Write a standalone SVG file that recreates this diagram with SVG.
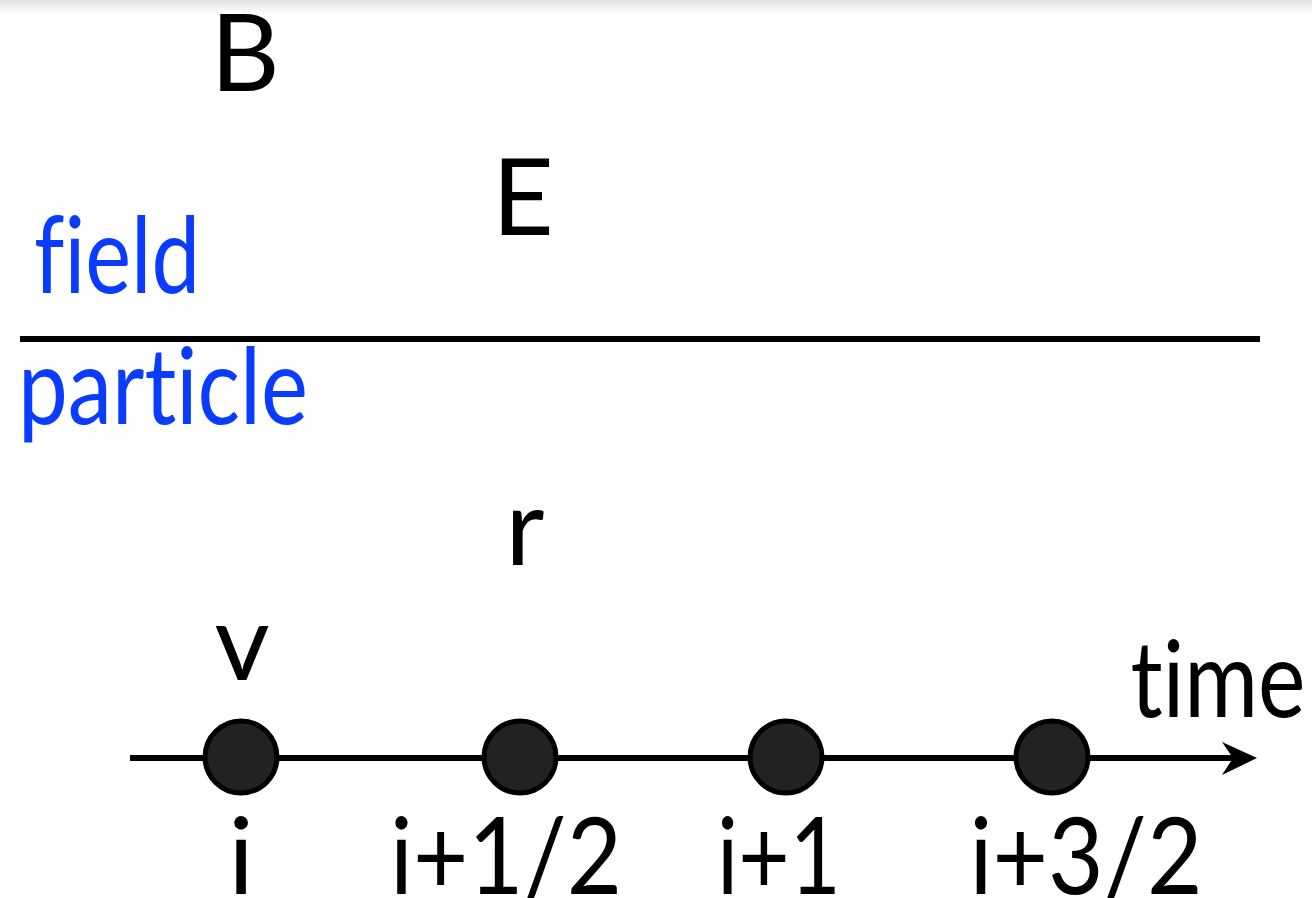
<svg xmlns="http://www.w3.org/2000/svg" width="1312" height="898" viewBox="0 0 1312 898">
<defs>
<style>
.lbl{font-family:"Lato","Open Sans","Liberation Sans",sans-serif;font-size:107px;fill:#000;text-anchor:middle;font-variant-ligatures:none;font-feature-settings:"liga" 0,"clig" 0}
.blue{fill:#0a3cff}
.dot{fill:#222;stroke:#000;stroke-width:5}
.ln{stroke:#000;stroke-width:6;fill:none}
</style>
<linearGradient id="topshade" x1="0" y1="0" x2="0" y2="1">
<stop offset="0" stop-color="#e4e4e4"/>
<stop offset="1" stop-color="#ffffff"/>
</linearGradient>
</defs>
<rect x="0" y="0" width="1312" height="898" fill="#fff"/>
<rect x="0" y="0" width="1312" height="15" fill="url(#topshade)"/>
<g id="connectors">
<line class="ln" x1="20" y1="339" x2="1260" y2="339"/>
<path d="M130,758 L1235,758" class="ln" stroke-width="5"/>
<path d="M1257,758 L1222,742 L1233,758 L1222,775 Z" fill="#000"/>
</g>
<g id="labels">
<text id="label-B" class="lbl" x="245" y="91">B</text>
<text id="label-E" class="lbl" x="523" y="235">E</text>
<text id="label-field" class="lbl blue" x="117" y="293" textLength="166" lengthAdjust="spacingAndGlyphs">field</text>
<text id="label-particle" class="lbl blue" x="163" y="424" textLength="290" lengthAdjust="spacingAndGlyphs">particle</text>
<text id="label-r" class="lbl" x="525" y="565">r</text>
<text id="label-v" class="lbl" x="242" y="680">v</text>
<text id="label-time" class="lbl" x="1218" y="717" textLength="175" lengthAdjust="spacingAndGlyphs">time</text>
</g>
<g id="node-i">
<circle class="dot" cx="241" cy="757" r="36"/>
<text class="lbl" x="241" y="894">i</text>
</g>
<g id="node-i-half">
<circle class="dot" cx="520" cy="757" r="36"/>
<text class="lbl" x="506" y="894" textLength="232" lengthAdjust="spacingAndGlyphs">i+1/2</text>
</g>
<g id="node-i-one">
<circle class="dot" cx="786" cy="757" r="36"/>
<text class="lbl" x="779" y="894" textLength="124" lengthAdjust="spacingAndGlyphs">i+1</text>
</g>
<g id="node-i-threehalf">
<circle class="dot" cx="1052" cy="757" r="36"/>
<text class="lbl" x="1086" y="894" textLength="233" lengthAdjust="spacingAndGlyphs">i+3/2</text>
</g>
</svg>
